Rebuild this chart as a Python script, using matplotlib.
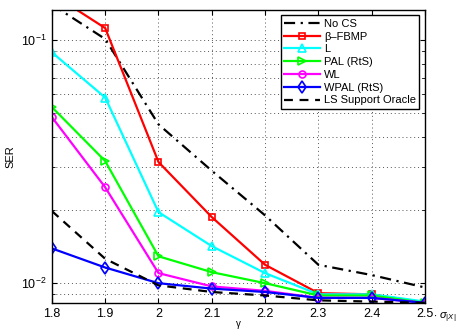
import numpy as np
import matplotlib
matplotlib.use('Agg')
from matplotlib import pyplot as plt
from matplotlib.ticker import LogLocator, NullFormatter

plt.rcParams['font.family'] = ['Liberation Sans', 'DejaVu Sans']
plt.rcParams['mathtext.fontset'] = 'custom'
plt.rcParams['mathtext.rm'] = 'Liberation Sans'
plt.rcParams['mathtext.it'] = 'Liberation Sans:italic'

gamma = [1.8, 1.9, 2.0, 2.1, 2.2, 2.3, 2.4, 2.5]
no_cs = [0.14, 0.101, 0.045, 0.029, 0.019, 0.0119, 0.0108, 0.0096]
fbmp = [0.155, 0.112, 0.0315, 0.0187, 0.0119, 0.0091, 0.0090, 0.0083]
l_ser = [0.089, 0.058, 0.0196, 0.0142, 0.0110, 0.0090, 0.0090, 0.0084]
pal = [0.053, 0.0318, 0.0129, 0.0111, 0.0100, 0.0089, 0.0089, 0.0083]
wl = [0.0482, 0.0248, 0.0110, 0.0097, 0.0093, 0.0087, 0.0087, 0.0083]
wpal = [0.0139, 0.0116, 0.0100, 0.0095, 0.0092, 0.0087, 0.0087, 0.0083]
oracle = [0.0198, 0.0126, 0.0098, 0.0092, 0.0089, 0.0085, 0.0084, 0.0083]

fig = plt.figure(figsize=(4.59, 3.31), dpi=100)
ax = fig.add_axes([0.113, 0.085, 0.813, 0.885])

lw = 1.6
ms = 5
ax.semilogy(gamma, no_cs, color='k', ls='-.', dashes=(5, 2.5, 1, 2.5), lw=lw, label='No CS')
ax.semilogy(gamma, fbmp, color='#ff0000', marker='s', ms=ms, mfc='none', mew=1.2, lw=lw, label='β–FBMP')
ax.semilogy(gamma, l_ser, color='#00ffff', marker='^', ms=ms+1, mfc='none', mew=1.2, lw=lw, label='L')
ax.semilogy(gamma, pal, color='#00ff00', marker='>', ms=ms+1, mfc='none', mew=1.2, lw=lw, label='PAL (RtS)')
ax.semilogy(gamma, wl, color='#ff00ff', marker='o', ms=ms, mfc='none', mew=1.2, lw=lw, label='WL')
ax.semilogy(gamma, wpal, color='#0000ff', marker='d', ms=ms+1, mfc='none', mew=1.2, lw=lw, label='WPAL (RtS)')
ax.semilogy(gamma, oracle, color='k', ls='--', dashes=(4, 3), lw=lw, label='LS Support Oracle')

ax.set_xlim(1.8, 2.5)
ax.set_ylim(0.0083, 0.133)
ax.set_xticks(gamma)
ax.set_xticklabels(['1.8', '1.9', '2', '2.1', '2.2', '2.3', '2.4', '2.5'])
ax.yaxis.set_major_locator(LogLocator(base=10))
ax.yaxis.set_minor_locator(LogLocator(base=10, subs=np.arange(2, 10)))
ax.yaxis.set_minor_formatter(NullFormatter())
ax.tick_params(labelsize=9, direction='in', which='both', top=True, right=True)
ax.tick_params(axis='x', pad=4)
ax.grid(True, which='major', ls=(0, (1, 3)), color='#555555', lw=0.7)
ax.grid(True, which='minor', axis='y', ls=(0, (1, 3)), color='#555555', lw=0.7)
for s in ax.spines.values():
    s.set_linewidth(1.0)

ax.set_ylabel('SER', fontsize=8)
# x label sits in the small gap under the tick labels
fig.text(0.519, 0.02, 'γ', fontsize=7, ha='center', va='center')
fig.text(0.943, 0.040, r'$\cdot\ \sigma_{|X|}$', fontsize=8, ha='left', va='center')

leg = ax.legend(loc='upper right', fontsize=8, fancybox=False, framealpha=1,
                edgecolor='k', handlelength=3.2, borderpad=0.3, labelspacing=0.25,
                handletextpad=0.4, borderaxespad=0.5)
leg.get_frame().set_linewidth(1.0)

plt.savefig('out.png', dpi=100)
